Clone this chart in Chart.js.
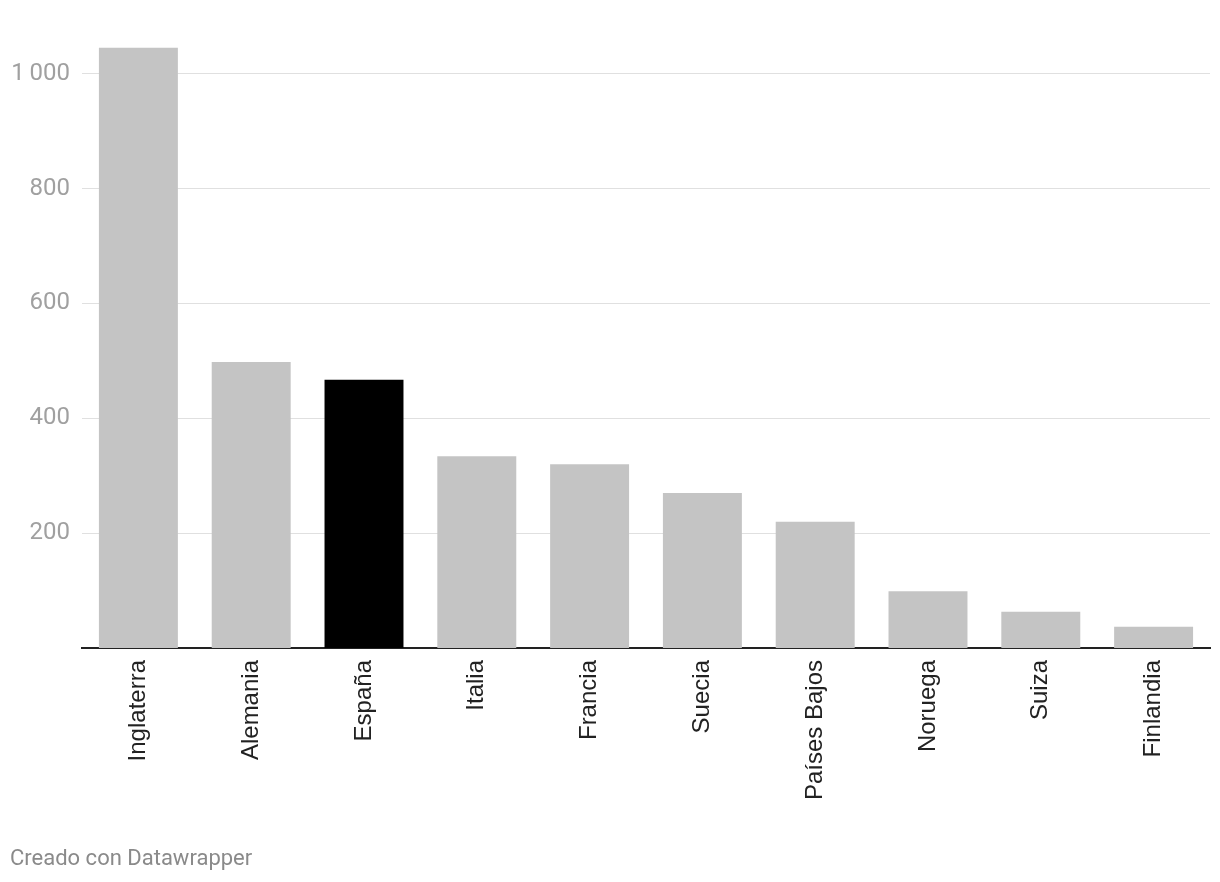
<!DOCTYPE html>
<html>
<head>
<meta charset="utf-8">
<script src="https://cdn.jsdelivr.net/npm/chart.js@4/dist/chart.umd.min.js"></script>
<style>
  html, body { margin: 0; padding: 0; background: #fff; }
  #wrap { position: relative; width: 1220px; height: 882px; }
  #footer {
    position: absolute; left: 10px; top: 845px;
    font-family: Roboto, sans-serif; font-size: 22px; color: #8a8a8a;
  }
</style>
</head>
<body>
<div id="wrap">
  <canvas id="chart" width="1220" height="882"></canvas>
  <div id="footer">Creado con Datawrapper</div>
</div>
<script>
// categories and values
const countries = ["Inglaterra", "Alemania", "España", "Italia", "Francia",
                   "Suecia", "Países Bajos", "Noruega", "Suiza", "Finlandia"];
const values    = [1045, 498, 467, 334, 320, 270, 220, 99, 63, 37];
const yTicks    = [200, 400, 600, 800, 1000];

// España is the highlighted bar
const HIGHLIGHT = "España";
const BAR_GREY  = "#c4c4c4";
const BAR_DARK  = "#000000";

function formatThousands(v) {
  return String(v).replace(/\B(?=(\d{3})+(?!\d))/g, "\u2009");
}

new Chart(document.getElementById("chart"), {
  type: "bar",
  data: {
    labels: countries,
    datasets: [{
      data: values,
      backgroundColor: countries.map(c => c === HIGHLIGHT ? BAR_DARK : BAR_GREY),
      barPercentage: 0.7,
      categoryPercentage: 1,
    }],
  },
  options: {
    responsive: false,
    animation: false,
    layout: { padding: { top: 45, left: 10, right: 10, bottom: 0 } },
    plugins: { legend: { display: false }, tooltip: { enabled: false } },
    scales: {
      x: {
        grid: { display: false, drawTicks: false },
        border: { color: "#222", width: 2 },
        afterFit: s => { s.height = 234; },
        ticks: {
          color: "#222",
          font: { family: "'Liberation Sans', Arial, sans-serif", size: 24 },
          minRotation: 90,
          maxRotation: 90,
          padding: 12,
          autoSkip: false,
        },
      },
      y: {
        min: 0,
        max: 1050,
        afterFit: s => { s.width = 72; },
        afterBuildTicks: s => { s.ticks = yTicks.map(v => ({ value: v })); },
        grid: { color: "#e0e0e0", lineWidth: 1, drawTicks: false },
        border: { display: false },
        ticks: {
          color: "#a0a0a0",
          font: { family: "Roboto, sans-serif", size: 24 },
          padding: 12,
          callback: v => formatThousands(v),
        },
      },
    },
  },
});
</script>
</body>
</html>
